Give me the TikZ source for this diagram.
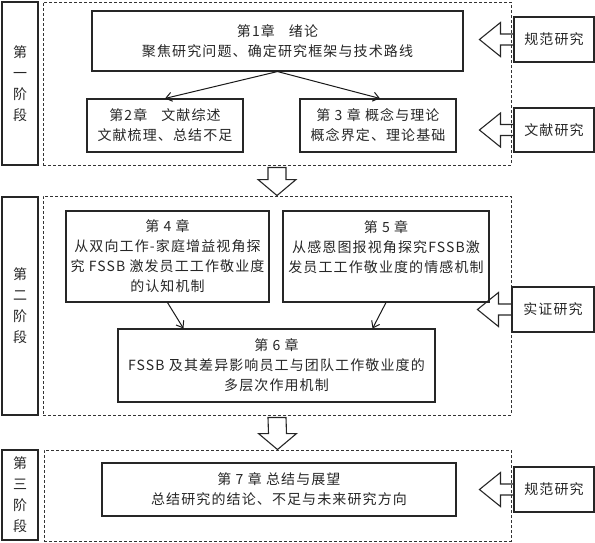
\documentclass[tikz,border=0pt]{standalone}
\usepackage{fontspec}
\setmainfont{Noto Sans CJK SC}[LetterSpace=8]
\usetikzlibrary{arrows.meta,calc}
\newcommand\leftblockarrow[1]{%
  \draw[barrow] ($(#1.west)+(0,-5.5)$) -- ($(#1.west)+(-13,-5.5)$) -- ($(#1.west)+(-13,-17)$)
    -- ($(#1.west)+(-34,0)$) -- ($(#1.west)+(-13,17)$) -- ($(#1.west)+(-13,5.5)$) -- ($(#1.west)+(0,5.5)$);}
\newcommand\downblockarrow[2]{%
  \draw[barrow] ($(#1.south)+(-9,2)$) -- ($(#2.north)+(-9,-16)$) -- ($(#2.north)+(-19,-16)$)
    -- (#2.north) -- ($(#2.north)+(19,-16)$) -- ($(#2.north)+(9,-16)$) -- ($(#1.south)+(9,2)$) -- cycle;}
\begin{document}
\begin{tikzpicture}[x=1pt,y=-1pt,
  box/.style={draw=black!85, line width=1.1pt, inner sep=0pt, align=center,
    font=\fontsize{14}{20}\selectfont, text=black!85},
  stagebox/.style={box, font=\fontsize{14}{21}\selectfont},
  dbox/.style={draw=black!80, line width=0.9pt, dash pattern=on 3pt off 2pt, inner sep=0pt},
  sz/.style 2 args={minimum width=#1pt, minimum height=#2pt},
  barrow/.style={draw=black!85, line width=1.1pt},
  link/.style={draw=black!90, line width=1pt, -{Straight Barb[length=6pt,width=9pt]}}]
\useasboundingbox (0,0) rectangle (595,542);
% stage 1
\node[stagebox, sz={36}{163}] (s1) at (20,83.5) {第\\一\\阶\\段};
\node[dbox, sz={468}{163}] (d1) at (277,83.5) {};
\node[box, sz={371}{60}] (c1) at (277.5,41) {第1章\quad 绪论\\聚焦研究问题、确定研究框架与技术路线};
\node[box, sz={156}{53}] (c2) at (165,125.5) {第2章\quad 文献综述\\文献梳理、总结不足};
\node[box, sz={156}{53}] (c3) at (378,125.5) {第 3 章 概念与理论\\概念界定、理论基础};
\node[box, sz={80}{45}] (r1) at (554,39.5) {规范研究};
\node[box, sz={80}{44}] (r2) at (554,130) {文献研究};
\draw[link] (c1.south) -- (c2.north);
\draw[link] (c1.south) -- ($(c3.north)+(2,0)$);
\leftblockarrow{r1}
\leftblockarrow{r2}
% stage 2
\node[stagebox, sz={36}{218}] (s2) at (20,306) {第\\二\\阶\\段};
\node[dbox, sz={468}{219}] (d2) at (277,305.5) {};
\node[box, sz={203}{91}] (c4) at (167.5,256.5) {第 4 章\\从双向工作-家庭增益视角探\\究 FSSB 激发员工工作敬业度\\的认知机制};
\node[box, sz={206}{91}] (c5) at (386,256.5) {第 5 章\\从感恩图报视角探究FSSB激\\发员工工作敬业度的情感机制\\\mbox{}};
\node[box, sz={317}{73}] (c6) at (276.5,365.5) {第 6 章\\FSSB 及其差异影响员工与团队工作敬业度的\\多层次作用机制};
\node[box, sz={82}{45}] (r3) at (553,309.5) {实证研究};
\draw[link] (c4.south) -- ($(c6.north west)+(66,0)$);
\draw[link] (c5.south) -- ($(c6.north east)+(-63,0)$);
\leftblockarrow{r3}
\downblockarrow{d1}{d2}
% stage 3
\node[stagebox, sz={36}{90}] (s3) at (20,495) {第\\三\\阶\\段};
\node[dbox, sz={467}{91}] (d3) at (277.5,495.5) {};
\node[box, sz={354}{53}] (c7) at (279,489.5) {第 7 章 总结与展望\\总结研究的结论、不足与未来研究方向};
\node[box, sz={80}{45}] (r4) at (554,489.5) {规范研究};
\leftblockarrow{r4}
\downblockarrow{d2}{d3}
\end{tikzpicture}
\end{document}
